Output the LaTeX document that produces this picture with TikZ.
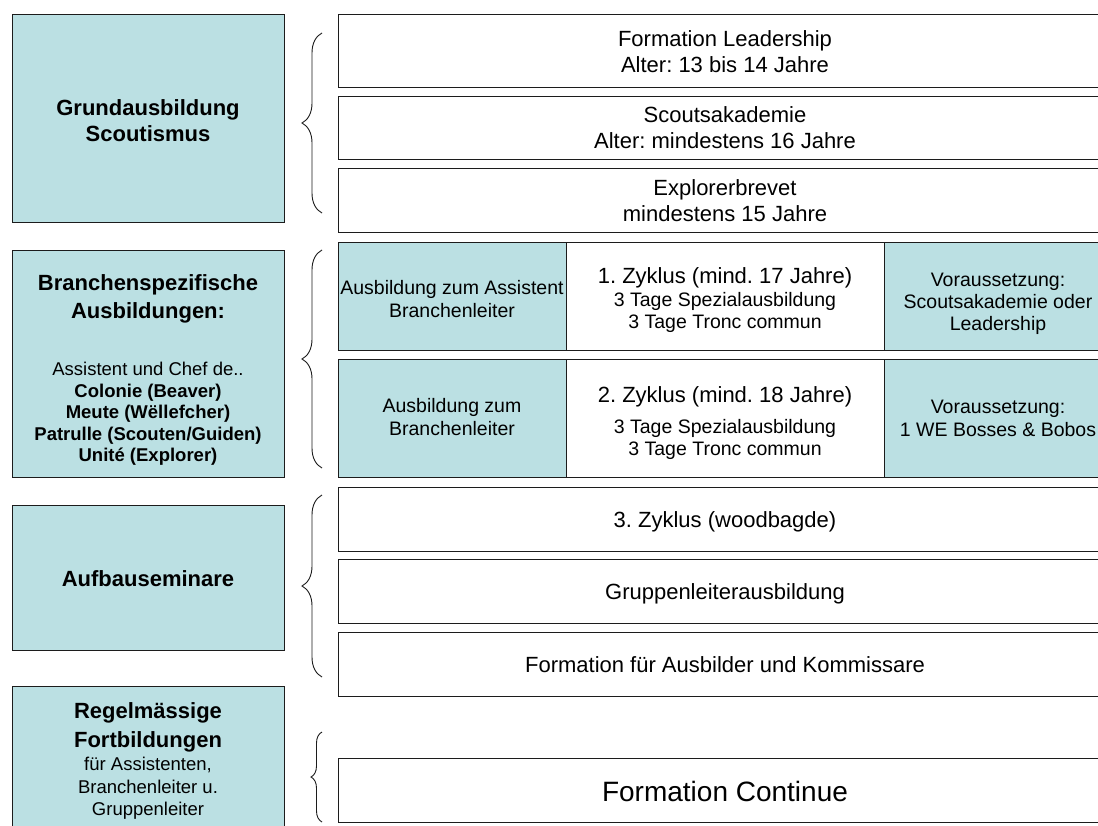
\documentclass[tikz,border=0pt]{standalone}
\usepackage{fontspec}
\setmainfont{Liberation Sans}
\usetikzlibrary{decorations.pathreplacing}
\definecolor{tealfill}{RGB}{187,224,227}
\definecolor{edgecol}{RGB}{28,28,28}
\frenchspacing
\begin{document}
\begin{tikzpicture}[x=1pt,y=-1pt,
  box/.style={draw=edgecol, line width=1.2pt, rectangle, anchor=north west, inner sep=0pt, fill=white},
  tbox/.style={box, fill=tealfill},
  brc/.style={draw=edgecol, line width=0.9pt, decorate, decoration={brace, amplitude=20pt}},
  brcs/.style={draw=edgecol, line width=0.9pt, decorate, decoration={brace, amplitude=11pt}},
  tb/.style={anchor=base, inner sep=0pt, font=\bfseries\fontsize{22}{26}\selectfont},
  ts/.style={anchor=base, inner sep=0pt, font=\fontsize{18.5}{22}\selectfont},
  tsb/.style={anchor=base, inner sep=0pt, font=\bfseries\fontsize{18.5}{22}\selectfont},
  tr/.style={anchor=base, inner sep=0pt, font=\fontsize{22}{26}\selectfont},
  tm/.style={anchor=base, inner sep=0pt, font=\fontsize{19.5}{23}\selectfont},
  tc/.style={anchor=base, inner sep=0pt, font=\fontsize{28}{32}\selectfont}
]
\useasboundingbox (0,0) rectangle (1098,825);
\fill[white] (0,0) rectangle (1098,825);
\clip (0,0) rectangle (1098,825);

% ---------- left category boxes ----------
\node[tbox, minimum width=272pt, minimum height=208pt] (L1) at (12,14) {};
\node[tbox, minimum width=272pt, minimum height=227pt] (L2) at (12,250) {};
\node[tbox, minimum width=272pt, minimum height=145pt] (L3) at (12,505) {};
\node[tbox, minimum width=272pt, minimum height=160pt] (L4) at (12,686) {};

\node[tb] (L1a) at (148,115) {Grundausbildung};
\node[tb] (L1b) at (148,141) {Scoutismus};

\node[tb] (L2a) at (148,290) {Branchenspezifische};
\node[tb] (L2b) at (148,318) {Ausbildungen:};
\node[ts] (L2c) at (148,375) {Assistent und Chef de..};
\node[tsb] (L2d) at (148,397) {Colonie (Beaver)};
\node[tsb] (L2e) at (148,418.5) {Meute (Wëllefcher)};
\node[tsb] (L2f) at (148,440) {Patrulle (Scouten/Guiden)};
\node[tsb] (L2g) at (148,461.5) {Unité (Explorer)};

\node[tb] (L3a) at (148,586) {Aufbauseminare};

\node[tb] (L4a) at (148,718) {Regelmässige};
\node[tb] (L4b) at (148,747) {Fortbildungen};
\node[ts] (L4c) at (148,770) {für Assistenten,};
\node[ts] (L4d) at (148,793) {Branchenleiter u.};
\node[ts] (L4e) at (148,815) {Gruppenleiter};

% ---------- braces ----------
\coordinate (B1t) at (322,33);  \coordinate (B1b) at (322,213);
\coordinate (B2t) at (322,250); \coordinate (B2b) at (322,468);
\coordinate (B3t) at (322,495); \coordinate (B3b) at (322,677);
\coordinate (B4t) at (322,732); \coordinate (B4b) at (322,822);
\draw[brc] (B1b) -- (B1t);
\draw[brc] (B2b) -- (B2t);
\draw[brc] (B3b) -- (B3t);
\draw[brcs] (B4b) -- (B4t);

% ---------- right boxes ----------
\node[box, minimum width=774pt, minimum height=73pt] (R1) at (338,14) {};
\node[box, minimum width=774pt, minimum height=63pt] (R2) at (338,96) {};
\node[box, minimum width=774pt, minimum height=64pt] (R3) at (338,168) {};

\node[tr] (R1a) at (725,46) {Formation Leadership};
\node[tr] (R1b) at (725,72) {Alter: 13 bis 14 Jahre};
\node[tr] (R2a) at (725,122.5) {Scoutsakademie};
\node[tr] (R2b) at (725,148.5) {Alter: mindestens 16 Jahre};
\node[tr] (R3a) at (725,195) {Explorerbrevet};
\node[tr] (R3b) at (725,221) {mindestens 15 Jahre};

% row 4: 1. Zyklus
\node[tbox, minimum width=228pt, minimum height=108pt] (Z1l) at (338,242) {};
\node[box,  minimum width=318pt, minimum height=108pt] (Z1m) at (566,242) {};
\node[tbox, minimum width=228pt, minimum height=108pt] (Z1r) at (884,242) {};
\node[tm] (Z1la) at (452,294) {Ausbildung zum Assistent};
\node[tm] (Z1lb) at (452,317) {Branchenleiter};
\node[tr] (Z1ma) at (725,283) {1. Zyklus (mind. 17 Jahre)};
\node[tm] (Z1mb) at (725,306) {3 Tage Spezialausbildung};
\node[tm] (Z1mc) at (725,328) {3 Tage Tronc commun};
\node[tm] (Z1ra) at (998,286) {Voraussetzung:};
\node[tm] (Z1rb) at (998,308) {Scoutsakademie oder};
\node[tm] (Z1rc) at (998,330) {Leadership};

% row 5: 2. Zyklus
\node[tbox, minimum width=228pt, minimum height=118pt] (Z2l) at (338,359) {};
\node[box,  minimum width=318pt, minimum height=118pt] (Z2m) at (566,359) {};
\node[tbox, minimum width=228pt, minimum height=118pt] (Z2r) at (884,359) {};
\node[tm] (Z2la) at (452,412) {Ausbildung zum};
\node[tm] (Z2lb) at (452,435) {Branchenleiter};
\node[tr] (Z2ma) at (725,402) {2. Zyklus (mind. 18 Jahre)};
\node[tm] (Z2mb) at (725,433) {3 Tage Spezialausbildung};
\node[tm] (Z2mc) at (725,455) {3 Tage Tronc commun};
\node[tm] (Z2ra) at (998,413) {Voraussetzung:};
\node[tm] (Z2rb) at (998,436) {1 WE Bosses \& Bobos};

% rows 6-8
\node[box, minimum width=774pt, minimum height=64pt] (R6) at (338,487) {};
\node[box, minimum width=774pt, minimum height=64pt] (R7) at (338,559) {};
\node[box, minimum width=774pt, minimum height=64pt] (R8) at (338,632) {};
\node[tr] (R6a) at (725,527) {3. Zyklus (woodbagde)};
\node[tr] (R7a) at (725,599) {Gruppenleiterausbildung};
\node[tr] (R8a) at (725,672) {Formation für Ausbilder und Kommissare};

% row 9
\node[box, minimum width=774pt, minimum height=64pt] (R9) at (338,758) {};
\node[tc] (R9a) at (725,801) {Formation Continue};
\end{tikzpicture}
\end{document}
